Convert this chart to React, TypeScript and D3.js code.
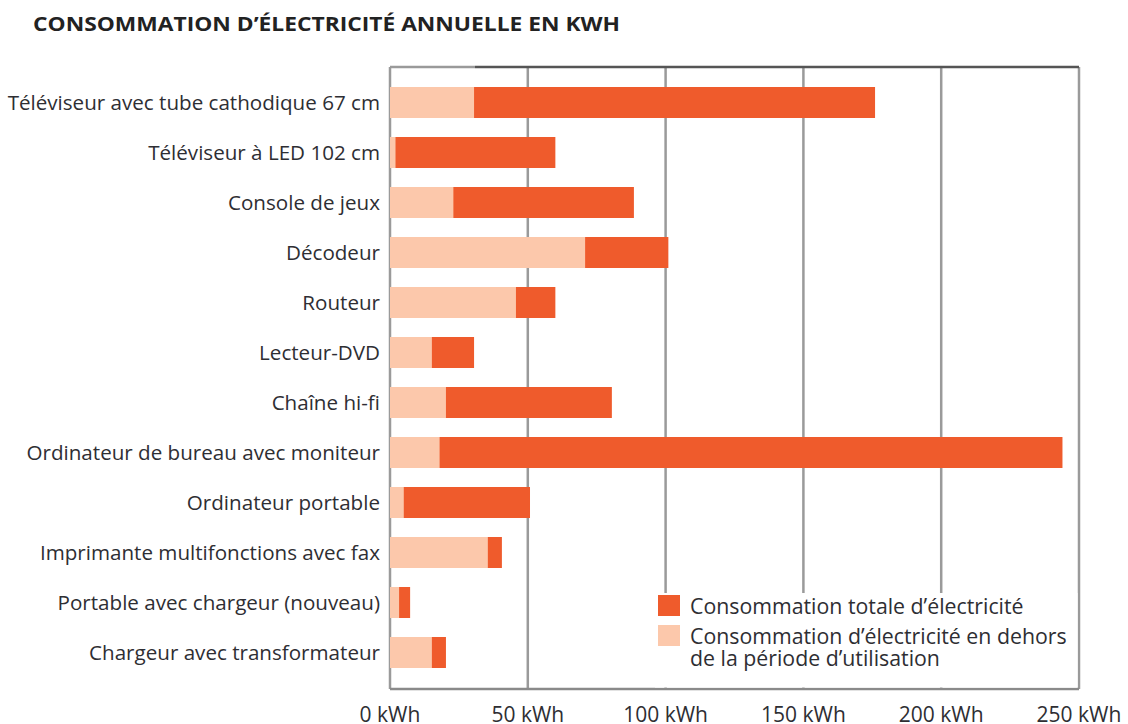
import React from "react";
import * as d3 from "d3";

const categories = [
  "Téléviseur avec tube cathodique 67 cm",
  "Téléviseur à LED 102 cm",
  "Console de jeux",
  "Décodeur",
  "Routeur",
  "Lecteur-DVD",
  "Chaîne hi-fi",
  "Ordinateur de bureau avec moniteur",
  "Ordinateur portable",
  "Imprimante multifonctions avec fax",
  "Portable avec chargeur (nouveau)",
  "Chargeur avec transformateur",
];
const totalValues = [176, 60, 88.5, 101, 60, 30.5, 80.5, 244, 50.8, 40.6, 7.3, 20.3];
const standbyValues = [30.5, 2, 23, 70.8, 45.7, 15.2, 20.3, 18, 5, 35.5, 3.3, 15.2];
const tickValues = [0, 50, 100, 150, 200, 250];
const title = "CONSOMMATION D\u2019ÉLECTRICITÉ ANNUELLE EN KWH";
const legendTotal = "Consommation totale d\u2019électricité";
const legendStandby = ["Consommation d\u2019électricité en dehors", "de la période d\u2019utilisation"];

const W = 1128;
const H = 724;
const DARK = "#EF5B2C";
const LIGHT = "#FCC8AB";
const TEXT = "#2e2e33";
const FONT = "'Open Sans', 'Noto Sans', sans-serif";

export default function App() {
  const x = d3.scaleLinear().domain([0, 250]).range([390, 1079]);
  const y = d3
    .scaleBand<string>()
    .domain(categories)
    .range([77.5, 677.5])
    .paddingInner(0.38)
    .paddingOuter(0.19);
  const top = 67;
  const bottom = 689;
  const legendX = 655;
  const legendY = 593;

  return (
    <svg
      width={W}
      height={H}
      style={{ position: "absolute", left: 0, top: 0, background: "#fff" }}
      fontFamily={FONT}
    >
      <text
        x={33}
        y={31}
        fontSize={19}
        fontWeight={700}
        fill="#222"
        textLength={587}
        lengthAdjust="spacingAndGlyphs"
      >
        {title}
      </text>
      {/* gridlines */}
      {tickValues.map((t) => (
        <line
          key={"g" + t}
          x1={x(t)}
          x2={x(t)}
          y1={top}
          y2={bottom}
          stroke="#9a9a9a"
          strokeWidth={2.5}
        />
      ))}
      {/* frame */}
      <line x1={x(0)} x2={475} y1={top} y2={top} stroke="#9a9a9a" strokeWidth={2.5} />
      <line x1={475} x2={x(250)} y1={top} y2={top} stroke="#555" strokeWidth={2.5} />
      <line x1={x(0)} x2={x(250)} y1={bottom} y2={bottom} stroke="#8a8a8a" strokeWidth={2.5} />
      {/* bars */}
      {categories.map((c, i) => (
        <g key={c}>
          <rect
            x={x(0)}
            y={y(c)}
            width={x(totalValues[i]) - x(0)}
            height={y.bandwidth()}
            fill={DARK}
          />
          <rect
            x={x(0)}
            y={y(c)}
            width={x(standbyValues[i]) - x(0)}
            height={y.bandwidth()}
            fill={LIGHT}
          />
          <text
            x={380}
            y={(y(c) as number) + y.bandwidth() / 2}
            dy="0.35em"
            textAnchor="end"
            fontSize={20.6}
            fill={TEXT}
          >
            {c}
          </text>
        </g>
      ))}
      {/* legend */}
      <rect x={legendX} y={legendY} width={x(250) - legendX - 1.5} height={bottom - legendY - 1.5} fill="#fff" />
      <rect x={658} y={595} width={22} height={21} fill={DARK} />
      <rect x={658} y={625} width={22} height={21} fill={LIGHT} />
      <text x={690} y={614} fontSize={21.3} fill={TEXT}>
        {legendTotal}
      </text>
      <text x={690} y={644} fontSize={21.3} fill={TEXT}>
        {legendStandby[0]}
      </text>
      <text x={690} y={666} fontSize={21.3} fill={TEXT}>
        {legendStandby[1]}
      </text>
      {/* x tick labels */}
      {tickValues.map((t) => (
        <text
          key={"t" + t}
          x={x(t)}
          y={722}
          textAnchor="middle"
          fontSize={21}
          fill={TEXT}
        >
          {t + " kWh"}
        </text>
      ))}
    </svg>
  );
}
